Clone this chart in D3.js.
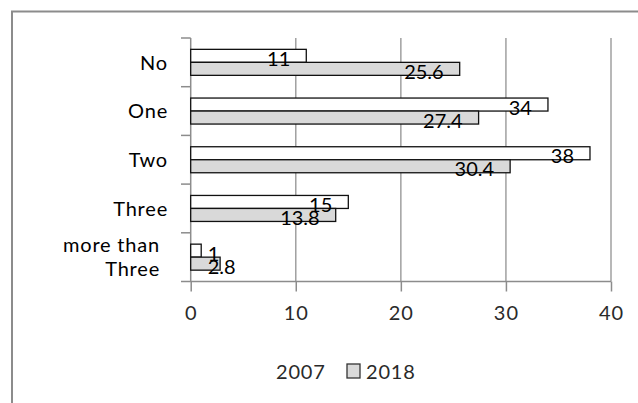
<!DOCTYPE html>
<html>
<head>
<meta charset="utf-8">
<script src="https://cdn.jsdelivr.net/npm/d3@7"></script>
<style>
  html, body { margin: 0; padding: 0; background: #fff; }
  svg { display: block; }
  text { font-family: Lato, "Open Sans", sans-serif; }
</style>
</head>
<body>
<svg id="chart" width="638" height="403"></svg>
<script>
const categories = ["No", "One", "Two", "Three", "more than\nThree"];
const seriesNames = ["2007", "2018"];
const values2007 = [11, 34, 38, 15, 1];
const values2018 = [25.6, 27.4, 30.4, 13.8, 2.8];
const xTicks = [0, 10, 20, 30, 40];

const seriesValues = [values2007, values2018];
const seriesFill = ["#ffffff", "#d9d9d9"];

const svg = d3.select("#chart");

// outer chart-area border (left and top visible)
svg.append("path")
  .attr("d", "M12,403 L12,11.5 L638,11.5")
  .attr("fill", "none").attr("stroke", "#8c8c8c").attr("stroke-width", 2);

const plotLeft = 190.7, plotRight = 611, plotTop = 38, plotBottom = 281.5;

const x = d3.scaleLinear().domain([0, 40]).range([plotLeft, plotRight]);
const y = d3.scaleBand().domain(categories).range([plotTop, plotBottom])
  .paddingInner(0.466).paddingOuter(0.233);
const ySub = d3.scaleBand().domain(seriesNames).range([0, y.bandwidth()]);

// gridlines
svg.append("g").selectAll("line").data(xTicks.filter(d => d > 0)).join("line")
  .attr("x1", d => x(d)).attr("x2", d => x(d))
  .attr("y1", plotTop).attr("y2", plotBottom)
  .attr("stroke", "#a0a0a0").attr("stroke-width", 1.5);

// x axis
const xAxis = svg.append("g").attr("transform", `translate(0,${plotBottom})`)
  .call(d3.axisBottom(x).tickValues(xTicks).tickSize(10).tickPadding(14));
xAxis.select(".domain").remove();
xAxis.append("line").attr("x1", 181).attr("x2", plotRight).attr("y1", 0).attr("y2", 0)
  .attr("stroke", "#8c8c8c").attr("stroke-width", 1.5);
xAxis.selectAll(".tick line").attr("stroke", "#8c8c8c").attr("stroke-width", 1.5);
xAxis.selectAll(".tick text").attr("fill", "#2a2a2a").attr("font-size", 20)
  .attr("font-family", "Lato, sans-serif").style("letter-spacing", "1px");

// y axis: line + tick marks at band boundaries
const yAxisG = svg.append("g");
yAxisG.append("line").attr("x1", plotLeft).attr("x2", plotLeft)
  .attr("y1", plotTop).attr("y2", plotBottom)
  .attr("stroke", "#8c8c8c").attr("stroke-width", 1.5);
const boundaries = categories.map(c => y(c) - y.step() * y.paddingInner() / 2);
yAxisG.selectAll("line.tk").data(boundaries).join("line").attr("class", "tk")
  .attr("x1", 181).attr("x2", plotLeft)
  .attr("y1", d => d).attr("y2", d => d)
  .attr("stroke", "#8c8c8c").attr("stroke-width", 1.5);

// category labels
const catG = svg.append("g");
categories.forEach(c => {
  const lines = c.split("\n");
  const cy = y(c) + y.bandwidth() / 2;
  const lh = 24;
  const t = catG.append("text")
    .attr("text-anchor", "end")
    .attr("font-size", 20).attr("fill", "#000")
    .style("letter-spacing", "0.8px");
  lines.forEach((ln, i) => {
    t.append("tspan")
      .attr("x", lines.length > 1 ? 160 : 168)
      .attr("y", cy + (i - (lines.length - 1) / 2) * lh)
      .attr("dy", "0.36em")
      .text(ln);
  });
});

// bars
seriesNames.forEach((s, si) => {
  const vals = seriesValues[si];
  svg.append("g").selectAll("rect").data(categories).join("rect")
    .attr("x", x(0))
    .attr("y", c => y(c) + ySub(s))
    .attr("width", (c, i) => x(vals[i]) - x(0))
    .attr("height", ySub.bandwidth())
    .attr("fill", seriesFill[si])
    .attr("stroke", "#111").attr("stroke-width", 1.3);
});

// data labels
seriesNames.forEach((s, si) => {
  const vals = seriesValues[si];
  categories.forEach((c, i) => {
    const t = svg.append("text")
      .attr("font-size", 20).attr("fill", "#000")
      .attr("text-anchor", "end")
      .attr("y", y(c) + ySub(s) + ySub.bandwidth() / 2 + 3)
      .attr("dy", "0.36em")
      .text(String(vals[i]));
    const w = t.node().getComputedTextLength();
    const xe = Math.max(x(vals[i]) - 16, x(0) + 17 + w);
    t.attr("x", xe);
  });
});

// legend
const lg = svg.append("g");
lg.append("rect").attr("x", 261).attr("y", 364).attr("width", 13).attr("height", 14)
  .attr("fill", "#ffffff");
lg.append("text").attr("x", 276).attr("y", 372).attr("dy", "0.36em")
  .attr("font-size", 20).attr("fill", "#2a2a2a").style("letter-spacing", "0.8px").text(seriesNames[0]);
lg.append("rect").attr("x", 347).attr("y", 364).attr("width", 13).attr("height", 14)
  .attr("fill", "#d9d9d9").attr("stroke", "#333").attr("stroke-width", 1.3);
lg.append("text").attr("x", 366).attr("y", 372).attr("dy", "0.36em")
  .attr("font-size", 20).attr("fill", "#2a2a2a").style("letter-spacing", "0.8px").text(seriesNames[1]);
</script>
</body>
</html>
